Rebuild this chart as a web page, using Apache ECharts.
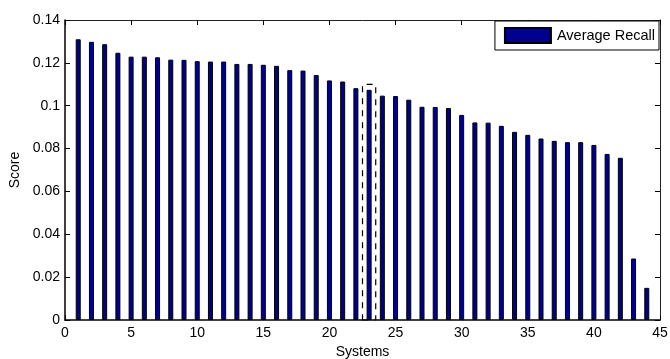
<!DOCTYPE html>
<html>
<head>
<meta charset="utf-8">
<script src="https://cdn.jsdelivr.net/npm/echarts@6/dist/echarts.min.js"></script>
<style>html,body{margin:0;padding:0;background:#fff}#c{width:670px;height:359px}</style>
</head>
<body>
<div id="c"></div>
<script>
const systems = [1,2,3,4,5,6,7,8,9,10,11,12,13,14,15,16,17,18,19,20,21,22,23,24,25,26,27,28,29,30,31,32,33,34,35,36,37,38,39,40,41,42,43,44];
const recall = [0.1310,0.1298,0.1287,0.1247,0.1229,0.1229,0.1226,0.1215,0.1214,0.1208,0.1206,0.1206,0.1195,0.1195,0.1191,0.1186,0.1166,0.1164,0.1143,0.1118,0.1113,0.1082,0.1074,0.1047,0.1045,0.1028,0.0995,0.0994,0.0989,0.0957,0.0922,0.0921,0.0906,0.0878,0.0864,0.0847,0.0836,0.0830,0.0830,0.0817,0.0775,0.0757,0.0287,0.0150];
const yTicks = ['0','0.02','0.04','0.06','0.08','0.1','0.12','0.14'];
const highlight = {x0: 22.5, x1: 23.5, top: 0.110};
const seriesName = 'Average Recall';

const font = 'Liberation Sans, Arial, Helvetica, sans-serif';
const chart = echarts.init(document.getElementById('c'), null, {renderer: 'canvas'});
const ticksStyle = {show: true, inside: true, length: 5, lineStyle: {color: '#000', width: 1}};
chart.setOption({
  animation: false,
  backgroundColor: '#fff',
  grid: {left: 65, right: 10, top: 20, bottom: 39, containLabel: false, outerBoundsMode: 'none'},
  legend: {
    data: [seriesName], right: 11, top: 21,
    orient: 'vertical',
    itemWidth: 46, itemHeight: 15, itemGap: 0,
    borderColor: '#000', borderWidth: 1, borderRadius: 0,
    padding: [6, 4, 6, 9], backgroundColor: '#fff',
    textStyle: {fontFamily: font, fontSize: 14.5, color: '#000', padding: [0,0,0,1]},
    icon: 'rect'
  },
  xAxis: [{
    type: 'value', min: 0, max: 45, interval: 5,
    name: 'Systems', nameLocation: 'middle', nameGap: 24,
    nameTextStyle: {fontFamily: font, fontSize: 14, color: '#000'},
    axisLine: {show: true, onZero: false, lineStyle: {color: '#000', width: 1.5}},
    axisTick: ticksStyle,
    axisLabel: {fontFamily: font, fontSize: 14, color: '#000', margin: 6},
    splitLine: {show: false}
  }, {
    type: 'value', min: 0, max: 45, interval: 5, position: 'top',
    axisLine: {show: true, onZero: false, lineStyle: {color: '#222', width: 1}},
    axisTick: ticksStyle, axisLabel: {show: false}, splitLine: {show: false}
  }],
  yAxis: [{
    type: 'value', min: 0, max: 0.14, interval: 0.02,
    name: 'Score', nameLocation: 'middle', nameGap: 42, nameRotate: 90,
    nameTextStyle: {fontFamily: font, fontSize: 14, color: '#000'},
    axisLine: {show: true, onZero: false, lineStyle: {color: '#000', width: 1.5}},
    axisTick: ticksStyle,
    axisLabel: {fontFamily: font, fontSize: 14, color: '#000', margin: 5,
      formatter: (v, i) => yTicks[i]},
    splitLine: {show: false}
  }, {
    type: 'value', min: 0, max: 0.14, interval: 0.02, position: 'right',
    axisLine: {show: true, onZero: false, lineStyle: {color: '#222', width: 1}},
    axisTick: ticksStyle, axisLabel: {show: false}, splitLine: {show: false}
  }],
  series: [{
    name: seriesName, type: 'bar',
    data: systems.map((s, i) => [s, recall[i]]),
    barWidth: 5,
    itemStyle: {color: '#00008F', borderColor: '#000', borderWidth: 1},
    markArea: {
      silent: true,
      itemStyle: {color: 'rgba(0,0,0,0)', borderColor: '#000', borderWidth: 1.2, borderType: [6, 6]},
      data: [[{coord: [highlight.x0, 0]}, {coord: [highlight.x1, highlight.top]}]]
    }
  }]
});
</script>
</body>
</html>
